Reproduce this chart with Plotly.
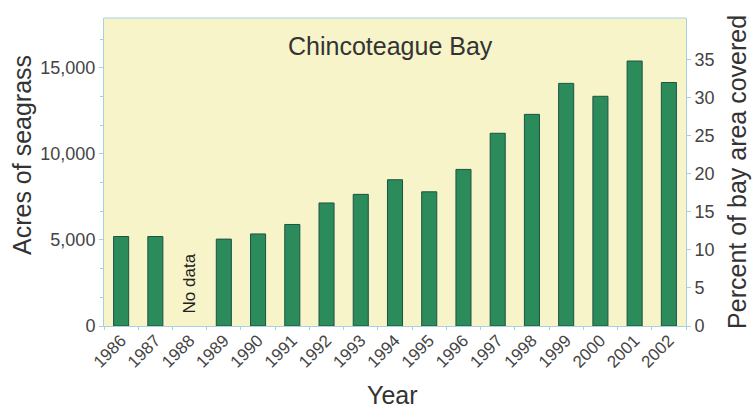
import plotly.graph_objects as go

# Seagrass acreage in Chincoteague Bay by survey year (1988 not surveyed)
years = [str(y) for y in range(1986, 2003)]
acres = [5200, 5200, None, 5050, 5350, 5900, 7150, 7650, 8500,
         7800, 9100, 11200, 12300, 14100, 13350, 15400, 14150]
bay_area_acres = 44300  # total bay area, used for the percent axis

left_ticks = [0, 5000, 10000, 15000]
left_ticktext = ["0", "5,000", "10,000", "15,000"]
right_ticks = [0, 5, 10, 15, 20, 25, 30, 35]

acre_max = 17900
pct_max = acre_max / bay_area_acres * 100

FONT = "Liberation Sans, Arial, sans-serif"
AXIS_BLUE = "#a9cfe2"
TEXT = "#333333"
TICK_TEXT = "#444444"

fig = go.Figure()
fig.add_trace(go.Bar(
    x=years, y=acres,
    marker=dict(color="#2c8b5b", line=dict(color="#1d5344", width=1)),
    width=0.44,
    yaxis="y",
    showlegend=False,
))
# percent trace keeps the right-hand axis attached to the same plot
fig.add_trace(go.Scatter(
    x=years, y=[a / bay_area_acres * 100 if a is not None else None for a in acres],
    yaxis="y2", mode="markers", marker=dict(opacity=0), hoverinfo="skip",
    showlegend=False,
))

fig.update_layout(
    width=754, height=409,
    margin=dict(l=104, r=68, t=18, b=83),
    paper_bgcolor="white",
    plot_bgcolor="#f6f4c8",
    font=dict(family=FONT, color=TEXT),
    xaxis=dict(
        type="category", range=[-0.5, 16.5],
        tickangle=-45, tickfont=dict(size=17, color=TICK_TEXT),
        ticklabelstandoff=-3,
        showline=True, linecolor=AXIS_BLUE, linewidth=1,
        ticks="outside", ticklen=3, tickcolor=AXIS_BLUE, tickson="boundaries",
        showgrid=False,
    ),
    yaxis=dict(
        range=[0, acre_max], tickvals=left_ticks, ticktext=left_ticktext,
        tickfont=dict(size=18, color=TICK_TEXT),
        showline=True, linecolor=AXIS_BLUE, linewidth=1,
        ticks="outside", ticklen=4, tickcolor=AXIS_BLUE,
        minor=dict(dtick=5000 / 3, ticks="outside", ticklen=3, tickcolor=AXIS_BLUE),
        showgrid=False, zeroline=False,
    ),
    yaxis2=dict(
        range=[0, pct_max], overlaying="y", side="right",
        tickvals=right_ticks, tickfont=dict(size=18, color=TICK_TEXT),
        showline=True, linecolor=AXIS_BLUE, linewidth=1,
        ticks="outside", ticklen=4, tickcolor=AXIS_BLUE,
        showgrid=False, zeroline=False,
    ),
)

# top edge of the plotting frame
fig.add_shape(type="line", xref="paper", yref="paper", x0=0, x1=1, y0=1, y1=1,
              line=dict(color=AXIS_BLUE, width=1))

fig.add_annotation(text="Chincoteague Bay", xref="paper", yref="paper",
                   x=0.493, y=0.91, xanchor="center", yanchor="middle",
                   showarrow=False, font=dict(size=25, color=TEXT))
fig.add_annotation(text="No data", x=years.index("1988"), y=2450, xref="x", yref="y",
                   xanchor="center", yanchor="middle",
                   textangle=-90, showarrow=False,
                   font=dict(size=17, color="#222222"))
fig.add_annotation(text="Acres of seagrass", xref="paper", yref="paper",
                   x=-0.141, y=0.555, xanchor="center", yanchor="middle",
                   textangle=-90, showarrow=False,
                   font=dict(size=25, color=TEXT))
fig.add_annotation(text="Percent of bay area covered", xref="paper", yref="paper",
                   x=1.0875, y=0.50, xanchor="center", yanchor="middle",
                   textangle=-90, showarrow=False,
                   font=dict(size=25, color=TEXT))
fig.add_annotation(text="Year", xref="paper", yref="paper",
                   x=0.495, y=-0.225, xanchor="center", yanchor="middle",
                   showarrow=False, font=dict(size=25, color=TEXT))

fig.write_html("out.html")
